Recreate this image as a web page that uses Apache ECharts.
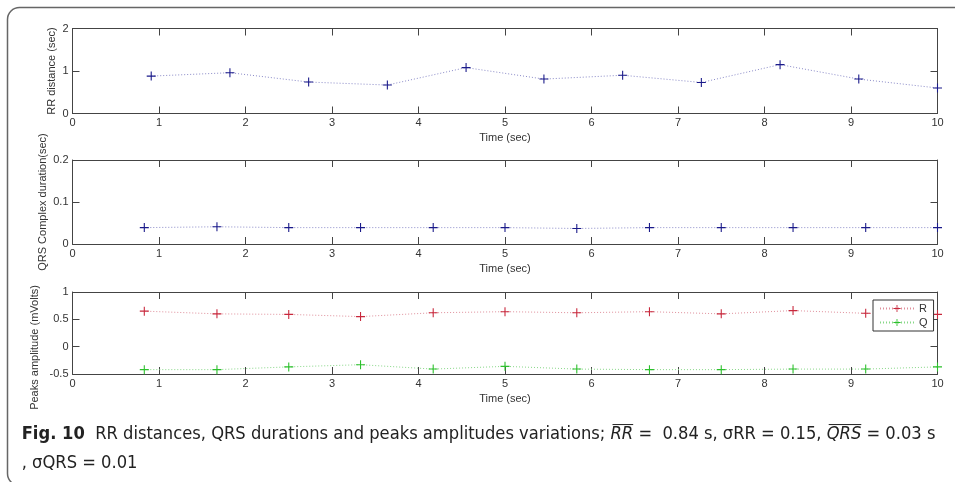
<!DOCTYPE html>
<html>
<head>
<meta charset="utf-8">
<script src="https://cdn.jsdelivr.net/npm/echarts@6/dist/echarts.min.js"></script>
<style>
html,body{margin:0;padding:0;background:#fff;}
#chart{width:955px;height:482px;}
</style>
</head>
<body>
<div id="chart"></div>
<script>
// ---- data ----
var xTicks = [0,1,2,3,4,5,6,7,8,9,10];
var rrTime = [0.91,1.82,2.73,3.64,4.55,5.45,6.36,7.27,8.18,9.09,10.0];
var rrValues = [0.88,0.96,0.74,0.67,1.08,0.81,0.90,0.73,1.15,0.81,0.60];
var qrsTime = [0.83,1.67,2.50,3.33,4.17,5.00,5.83,6.67,7.50,8.33,9.17,10.0];
var qrsValues = [0.039,0.041,0.039,0.039,0.039,0.039,0.037,0.039,0.039,0.039,0.039,0.039];
var peakTime = [0.83,1.67,2.50,3.33,4.17,5.00,5.83,6.67,7.50,8.33,9.17,10.0];
var rValues = [0.65,0.60,0.59,0.55,0.62,0.64,0.62,0.64,0.60,0.66,0.61,0.59];
var qValues = [-0.42,-0.42,-0.37,-0.33,-0.41,-0.36,-0.41,-0.42,-0.42,-0.41,-0.41,-0.37];
var yTitles = ['RR distance (sec)','QRS Complex duration(sec)','Peaks amplitude (mVolts)'];
var xTitle = 'Time (sec)';
var legendNames = ['R','Q'];

function pairs(xs, ys){ return xs.map(function(x,i){ return [x, ys[i]]; }); }

var chart = echarts.init(document.getElementById('chart'), null, {renderer:'canvas'});

var axisColor = '#444';
var labelColor = '#333';
var tickFont = 'Liberation Sans';
var plus = 'path://M0,4.4H10V5.6H0Z M4.4,0H5.6V10H4.4Z';

var grids = [
  {left:72.5, right:17.5, top:28.5, height:85},
  {left:72.5, right:17.5, top:160, height:84},
  {left:72.5, right:17.5, top:292, height:82}
];
var yRanges = [
  {min:0,max:2,interval:1},
  {min:0,max:0.2,interval:0.1},
  {min:-0.5,max:1,interval:0.5}
];

var xAxes = [], yAxes = [];
grids.forEach(function(g,i){
  xAxes.push({
    type:'value', gridIndex:i, position:'bottom', min:0, max:10, interval:1,
    name: xTitle, nameLocation:'middle', nameGap:19,
    nameTextStyle:{fontFamily:tickFont,fontSize:11,color:labelColor},
    axisLine:{show:true,onZero:false,lineStyle:{color:axisColor,width:1}},
    axisTick:{show:true,inside:true,length:7,lineStyle:{color:axisColor}},
    axisLabel:{show:true,margin:4,fontFamily:tickFont,fontSize:11,color:labelColor},
    splitLine:{show:false}
  });
  xAxes.push({
    type:'value', gridIndex:i, position:'top', min:0, max:10, interval:1,
    axisLine:{show:true,onZero:false,lineStyle:{color:axisColor,width:1}},
    axisTick:{show:true,inside:true,length:7,lineStyle:{color:axisColor}},
    axisLabel:{show:false}, splitLine:{show:false}
  });
  var r = yRanges[i];
  yAxes.push({
    type:'value', gridIndex:i, position:'left', min:r.min, max:r.max, interval:r.interval,
    axisLine:{show:true,onZero:false,lineStyle:{color:axisColor,width:1}},
    axisTick:{show:true,inside:true,length:7,lineStyle:{color:axisColor}},
    axisLabel:{show:true,margin:4,fontFamily:tickFont,fontSize:11,color:labelColor},
    splitLine:{show:false}
  });
  yAxes.push({
    type:'value', gridIndex:i, position:'right', min:r.min, max:r.max, interval:r.interval,
    axisLine:{show:true,onZero:false,lineStyle:{color:axisColor,width:1}},
    axisTick:{show:true,inside:true,length:7,lineStyle:{color:axisColor}},
    axisLabel:{show:false}, splitLine:{show:false}
  });
});

function lineSeries(name, data, xi, yi, markColor, lineColor){
  return {
    name:name, type:'line', xAxisIndex:xi, yAxisIndex:yi, data:data,
    symbol:plus, symbolSize:9, showSymbol:true, clip:false,
    itemStyle:{color:markColor},
    lineStyle:{color:lineColor,width:1,type:[1,2]},
    emphasis:{disabled:true}, animation:false, z:3
  };
}

// ---- caption (measured layout) ----
var W = 955, H = 482;
var capFamily = "'Liberation Sans Narrow', 'DejaVu Sans Condensed', 'Liberation Sans', sans-serif";
var mc = document.createElement('canvas').getContext('2d');
function fontStr(size, weight, style){ return (style||'normal')+' '+(weight||'normal')+' '+size+'px '+capFamily; }
var segs1 = [
  {t:'Fig. 10', w:'bold'},
  {t:'  RR distances, QRS durations and peaks amplitudes variations; '},
  {t:'RR', s:'italic', over:true},
  {t:' =  0.84 s, \u03C3RR = 0.15, '},
  {t:'QRS', s:'italic', over:true},
  {t:' = 0.03 s'}
];
var segs2 = [{t:', \u03C3QRS = 0.01'}];
function measure(segs, size){
  var tot=0; segs.forEach(function(s){ mc.font = fontStr(size,s.w,s.s); tot += mc.measureText(s.t).width; }); return tot;
}
var targetW = 914;
var capSize = 18 * targetW / measure(segs1, 18);
if (capSize > 20) capSize = 20;
var graphics = [];
graphics.push({type:'rect', shape:{x:7.5,y:7.5,width:980,height:478,r:12}, style:{fill:'none',stroke:'#666',lineWidth:1.5}, silent:true, z:0});
function layoutLine(segs, x0, yMid){
  var x = x0;
  segs.forEach(function(s){
    mc.font = fontStr(capSize,s.w,s.s);
    var w = mc.measureText(s.t).width;
    graphics.push({type:'text', x:x, y:yMid, style:{text:s.t, font:fontStr(capSize,s.w,s.s), fill:'#222', textAlign:'left', textVerticalAlign:'middle'}, silent:true});
    if (s.over){
      graphics.push({type:'line', shape:{x1:x+2,y1:yMid-capSize*0.52,x2:x+w,y2:yMid-capSize*0.52}, style:{stroke:'#222',lineWidth:1}, silent:true});
    }
    x += w;
  });
}
layoutLine(segs1, 21.7, 434);
layoutLine(segs2, 21.7, 463);

// y titles
var yTitlePos = [[51.7,71],[43.3,202],[35,347.5]];
yTitles.forEach(function(t,i){
  graphics.push({type:'text', x:yTitlePos[i][0], y:yTitlePos[i][1], rotation:Math.PI/2,
    style:{text:t, font:'11px '+tickFont, fill:labelColor, textAlign:'center', textVerticalAlign:'middle'}, silent:true});
});

var option = {
  backgroundColor:'#fff',
  animation:false,
  grid: grids,
  xAxis: xAxes,
  yAxis: yAxes,
  legend: {
    data: legendNames, orient:'vertical', left:873, top:300,
    padding:[3,6,3,6], itemGap:3, itemWidth:34, itemHeight:9,
    borderColor:'#333', borderWidth:1, backgroundColor:'#fff',
    textStyle:{fontFamily:tickFont,fontSize:11,color:'#333'},
    selectedMode:false, z:10
  },
  series: [
    lineSeries('RR', pairs(rrTime, rrValues), 0, 0, '#1a1a8a', '#8a8ac8'),
    lineSeries('QRS', pairs(qrsTime, qrsValues), 2, 2, '#1a1a8a', '#8a8ac8'),
    lineSeries(legendNames[0], pairs(peakTime, rValues), 4, 4, '#c8283c', '#e0909c'),
    lineSeries(legendNames[1], pairs(peakTime, qValues), 4, 4, '#2cc02c', '#88d888')
  ],
  graphic: graphics
};
chart.setOption(option);
</script>
</body>
</html>
